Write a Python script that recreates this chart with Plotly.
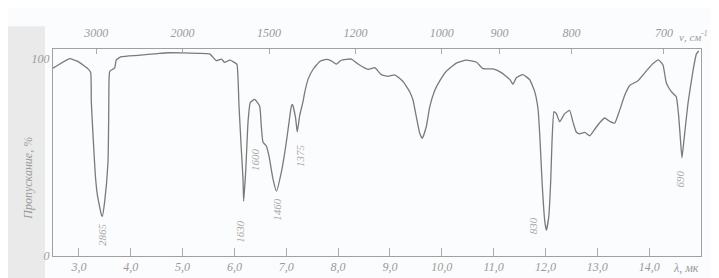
import plotly.graph_objects as go

# wavelength, micrometres
wavelength = [2.50, 2.60, 2.82, 2.98, 3.175, 3.227, 3.239, 3.272, 3.316, 3.355,
              3.432, 3.451, 3.497, 3.561, 3.574, 3.58, 3.594, 3.69, 3.721, 3.818,
              4.14, 4.525, 4.718, 5.0, 5.3, 5.523, 5.65, 5.747, 5.812, 5.909,
              6.005, 6.049, 6.088, 6.132, 6.165, 6.177, 6.217, 6.262, 6.306, 6.391,
              6.487, 6.518, 6.551, 6.615, 6.667, 6.744, 6.811, 6.904, 6.989, 7.033,
              7.097, 7.12, 7.178, 7.211, 7.259, 7.323, 7.355, 7.419, 7.515, 7.645,
              7.772, 7.868, 7.965, 8.061, 8.254, 8.383, 8.576, 8.706, 8.833, 8.962,
              9.091, 9.252, 9.381, 9.444, 9.508, 9.574, 9.624, 9.701, 9.767, 9.863,
              9.96, 10.087, 10.28, 10.473, 10.666, 10.795, 10.988, 11.148, 11.31, 11.373,
              11.437, 11.566, 11.696, 11.792, 11.856, 11.894, 11.933, 11.985, 12.016, 12.062,
              12.101, 12.126, 12.164, 12.209, 12.274, 12.371, 12.467, 12.531, 12.594, 12.66,
              12.757, 12.853, 12.95, 13.046, 13.142, 13.239, 13.335, 13.432, 13.528, 13.625,
              13.785, 13.914, 14.074, 14.18, 14.267, 14.33, 14.427, 14.523, 14.57, 14.608,
              14.633, 14.672, 14.749, 14.846, 14.91, 14.956]

# transmittance, %
transmittance = [95.3, 96.9, 100.1, 98.7, 94.9, 93.1, 78.1, 61.3, 41.2, 31.1,
                 21.0, 20.1, 27.6, 47.7, 69.6, 88.7, 93.7, 95.4, 99.5, 101.1,
                 101.8, 102.7, 103.1, 103.0, 102.8, 102.5, 99.1, 99.9, 98.2, 99.4,
                 98.1, 97.2, 76.2, 54.4, 39.3, 27.8, 42.8, 67.9, 77.9, 79.4,
                 76.0, 65.9, 57.7, 55.8, 50.7, 39.0, 32.9, 42.4, 55.6, 63.9,
                 75.9, 76.9, 70.3, 62.9, 71.3, 78.3, 82.9, 89.6, 94.6, 98.7,
                 99.7, 99.0, 97.3, 99.3, 99.9, 97.4, 94.7, 95.5, 92.0, 91.1,
                 91.9, 88.5, 83.3, 79.1, 70.7, 62.2, 59.7, 65.6, 75.6, 83.9,
                 88.8, 93.7, 97.8, 99.4, 98.4, 95.0, 94.9, 93.0, 89.6, 87.1,
                 90.4, 92.0, 89.4, 83.4, 74.6, 59.3, 38.1, 18.0, 13.0, 19.6,
                 38.0, 58.1, 73.2, 72.3, 68.1, 72.2, 73.8, 67.9, 62.9, 61.9,
                 62.7, 61.0, 64.3, 67.6, 70.0, 68.3, 67.4, 74.0, 81.5, 86.5,
                 88.9, 92.9, 97.6, 99.5, 96.9, 87.9, 83.4, 80.8, 70.8, 57.4,
                 49.8, 59.0, 77.4, 94.0, 102.4, 104.0]

# bottom axis (wavelength) ticks
lambda_ticks = [3, 4, 5, 6, 7, 8, 9, 10, 11, 12, 13, 14]
lambda_labels = ["3,0", "4,0", "5,0", "6,0", "7,0", "8,0", "9,0", "10,0", "11,0", "12,0", "13,0", "14,0"]

# top axis (wavenumber) ticks, cm^-1
wavenumber_ticks = [3000, 2000, 1500, 1200, 1000, 900, 800, 700]
wavenumber_labels = ["3000", "2000", "1500", "1200", "1000", "900", "800", "700"]

# band labels: text, wavelength position, transmittance position
band_text = ["2865", "1630", "1600", "1460", "1375", "830", "690"]
band_x = [3.46, 6.107, 6.397, 6.82, 7.265, 11.76, 14.6]
band_y = [11.0, 12.8, 48.7, 23.9, 50.7, 15.1, 38.9]

INK = "#7a7a7a"
TXT = "#9a9a9a"
FONT = dict(family="Liberation Serif", size=12, color=TXT, style="italic")

fig = go.Figure()
fig.add_trace(go.Scatter(x=wavelength, y=transmittance, mode="lines",
                         line=dict(color=INK, width=1.3, shape="spline", smoothing=0.4),
                         hoverinfo="skip", showlegend=False))
fig.add_trace(go.Scatter(x=[10000 / w for w in wavenumber_ticks], y=[None] * len(wavenumber_ticks),
                         xaxis="x2", mode="lines", showlegend=False, hoverinfo="skip"))

for t, x, y in zip(band_text, band_x, band_y):
    fig.add_annotation(x=x, y=y, text=t, showarrow=False, textangle=-90,
                       xanchor="center", yanchor="middle",
                       font=dict(family="Liberation Serif", size=11, color="#a8a8a8", style="italic"))

fig.add_annotation(xref="paper", yref="paper", x=(678 - 45) / 648, y=(250 - 262) / 209,
                   text="λ, мк", showarrow=False, font=FONT, xanchor="center", yanchor="middle")
fig.add_annotation(xref="paper", yref="paper", x=(669 - 45) / 648, y=(250 - 28) / 209,
                   text="ν, см<sup>-1</sup>", showarrow=False,
                   font=dict(family="Liberation Serif", size=11, color=TXT, style="italic"),
                   xanchor="left", yanchor="middle")
fig.add_annotation(xref="paper", yref="paper", x=(20 - 45) / 648, y=(250 - 172) / 209,
                   text="Пропускание, %", showarrow=False, textangle=-90, font=FONT,
                   xanchor="center", yanchor="middle")

fig.add_shape(type="rect", xref="paper", yref="paper",
              x0=-45 / 648, x1=-8 / 648, y0=-28 / 209, y1=(250 - 18) / 209,
              fillcolor="#e2e2e2", line=dict(width=0), layer="below", opacity=0.7)

fig.update_layout(
    width=719, height=278,
    margin=dict(l=45, r=26, t=41, b=28),
    paper_bgcolor="#fafcfd", plot_bgcolor="#fbfcfd",
    font=FONT,
    xaxis=dict(range=[2.5, 15.0], tickvals=lambda_ticks, ticktext=lambda_labels,
               ticks="inside", ticklen=8, tickcolor="#aaaaaa", showgrid=False, zeroline=False,
               showline=True, linecolor="#a0a0a0", linewidth=1, tickfont=FONT),
    xaxis2=dict(range=[2.5, 15.0], overlaying="x", side="top",
                tickvals=[10000 / w for w in wavenumber_ticks], ticktext=wavenumber_labels,
                ticks="inside", ticklen=5, tickcolor="#aaaaaa", showgrid=False, zeroline=False,
                showline=True, linecolor="#a0a0a0", linewidth=1, tickfont=FONT,
                ticklabelstandoff=6),
    yaxis=dict(range=[0, 105], tickvals=[0, 100], ticktext=["0", "100"], ticks="",
               showgrid=False, zeroline=False, showline=True, mirror=True,
               linecolor="#a0a0a0", linewidth=1, tickfont=FONT),
)

fig.write_html("out.html")
